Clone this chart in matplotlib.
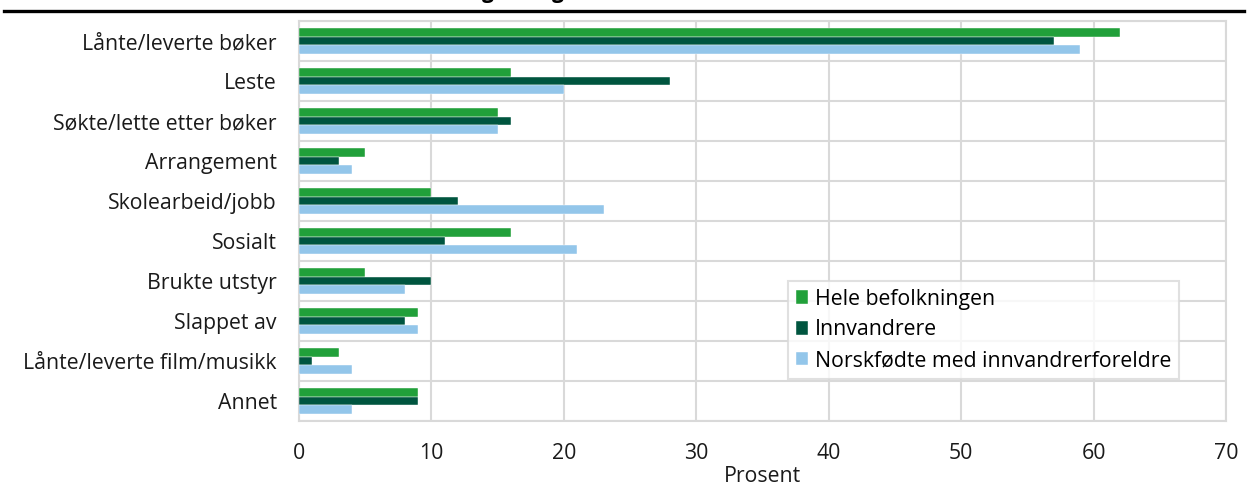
import matplotlib
matplotlib.use("Agg")
import matplotlib.pyplot as plt
import numpy as np

categories = ["Lånte/leverte bøker", "Leste", "Søkte/lette etter bøker", "Arrangement",
              "Skolearbeid/jobb", "Sosialt", "Brukte utstyr", "Slappet av",
              "Lånte/leverte film/musikk", "Annet"]
series_names = ["Hele befolkningen", "Innvandrere", "Norskfødte med innvandrerforeldre"]
hele = [62, 16, 15, 5, 10, 16, 5, 9, 3, 9]
innv = [57, 28, 16, 3, 12, 11, 10, 8, 1, 9]
norsk = [59, 20, 15, 4, 23, 21, 8, 9, 4, 4]
xticks = [0, 10, 20, 30, 40, 50, 60, 70]
colors = ["#21a03a", "#00553f", "#93c6ea"]

plt.rcParams['font.family'] = ['Open Sans', 'DejaVu Sans']
FS = 15.3
W, H = 1250, 490
fig = plt.figure(figsize=(W / 100, H / 100), dpi=100)
ax = fig.add_axes([299 / W, 1 - 421 / H, (1226 - 299) / W, (421 - 21) / H])

y = np.arange(len(categories))
bh = 0.222
for i, (vals, c, name) in enumerate(zip([hele, innv, norsk], colors, series_names)):
    ax.barh(y + (i - 1) * bh, vals, height=bh, color=c, label=name,
            edgecolor="white", linewidth=0.3, zorder=3)

ax.set_xlim(0, 70)
ax.set_ylim(len(categories) - 0.5, -0.5)
ax.set_xticks(xticks)
ax.set_yticks(y)
ax.set_yticklabels(categories)
ax.set_yticks(np.arange(-0.5, len(categories), 1), minor=True)
ax.grid(axis="x", which="major", color="#d9d9d9", linewidth=1.5, zorder=0)
ax.grid(axis="y", which="minor", color="#d9d9d9", linewidth=1.5, zorder=0)
ax.grid(axis="y", which="major", visible=False)
for s in ax.spines.values():
    s.set_color("#d9d9d9")
    s.set_linewidth(1.5)
ax.tick_params(axis="both", which="both", length=0, labelsize=FS, colors="#1a1a1a")
ax.tick_params(axis="y", pad=16)
ax.tick_params(axis="x", pad=15.5)
ax.set_xlabel("Prosent", fontsize=FS, color="#1a1a1a", labelpad=1.5)

leg = ax.legend(loc="upper left", bbox_to_anchor=((788 - 299) / (1226 - 299), 1 - (281 - 21) / 400),
                fontsize=FS, frameon=True, fancybox=False, handlelength=0.6, handleheight=0.6,
                handletextpad=0.3, borderpad=0.36, labelspacing=0.46, borderaxespad=0)
leg.get_frame().set_edgecolor("#d9d9d9")
leg.get_frame().set_linewidth(1.5)

# top rule and clipped title remnants
fig.add_artist(plt.Line2D([4 / W, 1244 / W], [1 - 11 / H, 1 - 11 / H], color="black", linewidth=2.4))
for gx in [488, 558]:
    fig.text(gx / W, 1 + 2 / H, "g", fontsize=15, fontweight="bold", ha="center", va="baseline")

fig.savefig("out.png", dpi=100)
